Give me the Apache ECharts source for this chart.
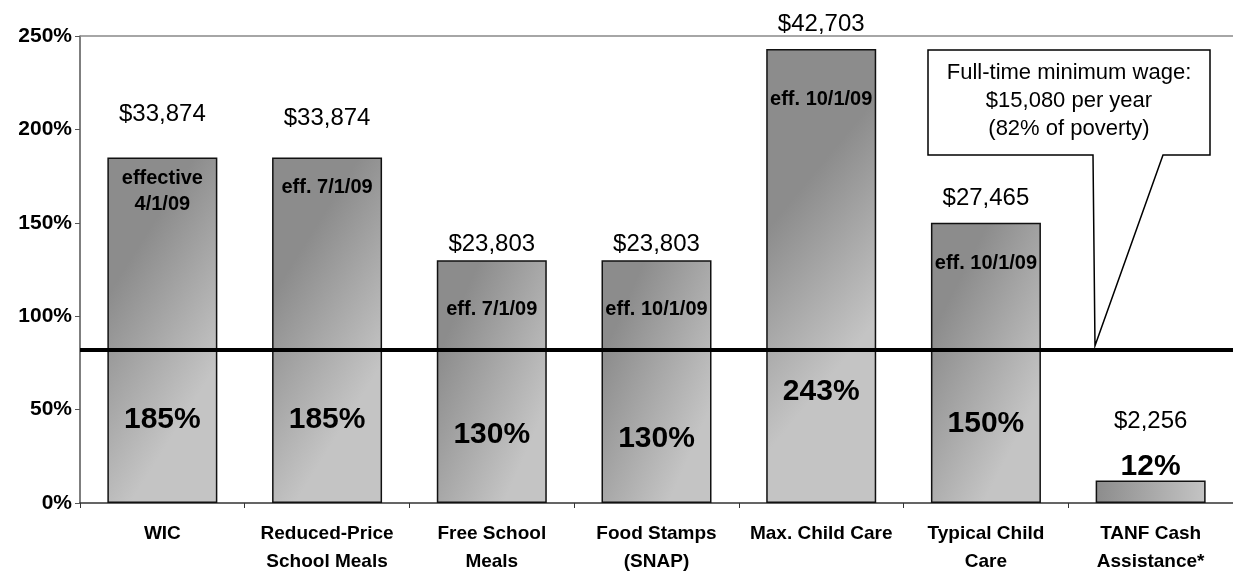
<!DOCTYPE html>
<html>
<head>
<meta charset="utf-8">
<script src="https://cdn.jsdelivr.net/npm/echarts@6/dist/echarts.min.js"></script>
<style>
  html, body { margin: 0; padding: 0; background: #fff; }
  #chart { width: 1233px; height: 571px; }
</style>
</head>
<body>
<div id="chart"></div>
<script>
// data
var categories = ["WIC", "Reduced-Price\nSchool Meals", "Free School\nMeals", "Food Stamps\n(SNAP)",
  "Max. Child Care", "Typical Child\nCare", "TANF Cash\nAssistance*"];
var percentOfPoverty = [185, 185, 130, 130, 243, 150, 12];
var dollarAmounts = ["$33,874", "$33,874", "$23,803", "$23,803", "$42,703", "$27,465", "$2,256"];
var effectiveDates = ["effective\n4/1/09", "eff. 7/1/09", "eff. 7/1/09", "eff. 10/1/09", "eff. 10/1/09", "eff. 10/1/09", ""];
var minWagePercent = 82;
var calloutLines = ["Full-time minimum wage:", "$15,080 per year", "(82% of poverty)"];
var yMax = 250;
var yStep = 50;

// label placement (style only)
var FONT = "'Liberation Sans', Arial, Helvetica, sans-serif";
var dollarGap = [29, 25, 2, 2, 11, 10, 45];
var dateGap = [8, 17, 36, 36, 37, 28, 0];
var pctGap = [66, 66, 51, 47, 94, 62, -3];

var chart = echarts.init(document.getElementById("chart"));

var barFill = new echarts.graphic.LinearGradient(0, 0.4, 1, 0.6, [
  { offset: 0, color: "#8c8c8c" },
  { offset: 1, color: "#c4c4c4" }
]);

var option = {
  animation: false,
  backgroundColor: "#fff",
  grid: { left: 80, right: 0, top: 36, bottom: 68, containLabel: false, outerBoundsMode: "none" },
  xAxis: {
    type: "category",
    data: categories,
    axisLine: { lineStyle: { color: "#333", width: 1.5 } },
    axisTick: { show: true, length: 5, lineStyle: { color: "#333" } },
    axisLabel: {
      interval: 0,
      color: "#000",
      fontFamily: FONT,
      fontWeight: "bold",
      fontSize: 19,
      lineHeight: 28,
      margin: 17
    }
  },
  yAxis: {
    type: "value",
    min: 0,
    max: yMax,
    interval: yStep,
    axisLine: { show: true, lineStyle: { color: "#555", width: 1.5 } },
    axisTick: { show: true, length: 5, lineStyle: { color: "#555" } },
    splitLine: { show: false },
    axisLabel: {
      formatter: "{value}%",
      color: "#000",
      fontFamily: FONT,
      fontWeight: "bold",
      fontSize: 21,
      margin: 8
    }
  },
  series: [
    {
      name: "bars",
      type: "bar",
      barWidth: 110,
      z: 2,
      data: percentOfPoverty.map(function (v, i) {
        return { value: v, label: { distance: dollarGap[i] } };
      }),
      itemStyle: { color: barFill, borderColor: "#111", borderWidth: 1.5 },
      label: {
        show: true,
        position: "top",
        formatter: function (p) { return dollarAmounts[p.dataIndex]; },
        color: "#000",
        fontFamily: FONT,
        fontSize: 24,
        lineHeight: 28
      },
      markLine: {
        silent: true,
        symbol: "none",
        label: { show: false },
        data: [
          { yAxis: minWagePercent, lineStyle: { color: "#000", width: 4, type: "solid" } },
          { yAxis: yMax, lineStyle: { color: "#888", width: 1.5, type: "solid" } }
        ]
      }
    },
    {
      name: "dates",
      type: "bar",
      barWidth: 110,
      barGap: "-100%",
      z: 3,
      data: percentOfPoverty.map(function (v, i) {
        return { value: v, label: { distance: dateGap[i] } };
      }),
      itemStyle: { color: "transparent" },
      label: {
        show: true,
        position: "insideTop",
        formatter: function (p) { return effectiveDates[p.dataIndex]; },
        color: "#000",
        fontFamily: FONT,
        fontWeight: "bold",
        fontSize: 20,
        lineHeight: 26
      }
    },
    {
      name: "percent",
      type: "bar",
      barWidth: 110,
      barGap: "-100%",
      z: 3,
      data: percentOfPoverty.map(function (v, i) {
        var item = { value: v, label: { distance: pctGap[i] } };
        if (v < 30) item.label.position = "top";
        return item;
      }),
      itemStyle: { color: "transparent" },
      label: {
        show: true,
        position: "insideBottom",
        formatter: "{c}%",
        color: "#000",
        fontFamily: FONT,
        fontWeight: "bold",
        fontSize: 30,
        lineHeight: 34
      }
    }
  ]
};

chart.setOption(option);

// callout box pointing at the minimum wage line
var tipY = chart.convertToPixel({ yAxisIndex: 0 }, minWagePercent) - 4;
chart.setOption({
  graphic: [
    {
      type: "polygon",
      z: 10,
      shape: {
        points: [[928, 50], [1210, 50], [1210, 155], [1163, 155], [1095, tipY], [1093, 155], [928, 155]]
      },
      style: { fill: "#fff", stroke: "#000", lineWidth: 1.5 }
    },
    {
      type: "text",
      z: 11,
      x: 1069,
      y: 101,
      style: {
        text: calloutLines.join("\n"),
        align: "center",
        verticalAlign: "middle",
        fontFamily: FONT,
        fontSize: 22,
        lineHeight: 28,
        fill: "#000"
      }
    }
  ]
});
</script>
</body>
</html>
